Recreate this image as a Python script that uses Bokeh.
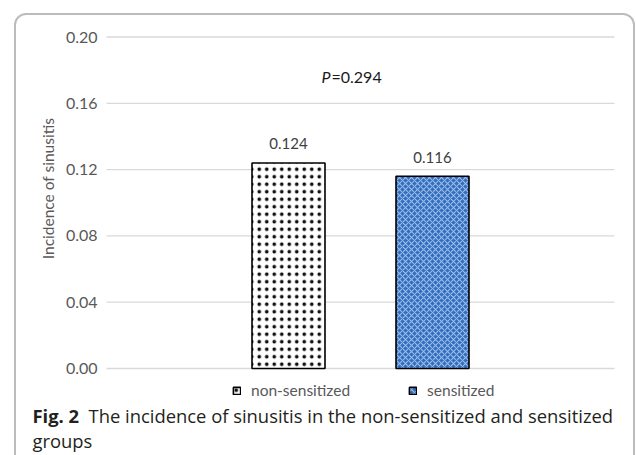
import math
from bokeh.plotting import figure
from bokeh.models import (ColumnDataSource, Range1d, Label, LabelSet, Legend,
                          LegendItem, BoxAnnotation)
from bokeh.embed import file_html
from bokeh.resources import INLINE
from bokeh.core.properties import value

# ---- data ----
groups = ["non-sensitized", "sensitized"]
incidence = [0.124, 0.116]
value_labels = ["0.124", "0.116"]
p_symbol = "P"
p_value_text = "=0.294"
y_ticks = [0.00, 0.04, 0.08, 0.12, 0.16, 0.20]
tick_labels = ["0.00", "0.04", "0.08", "0.12", "0.16", "0.20"]
y_axis_title = "Incidence of sinusitis"
caption_bold = "Fig. 2"
caption_line1 = "The incidence of sinusitis in the non-sensitized and sensitized"
caption_line2 = "groups"

CHART_FONT = "Lato"
CAP_FONT = "Open Sans"

# ---- layout geometry (pixels) ----
W, H = 636, 455
PX_X = 144.0                  # pixels per category step
X0_PX = 288.0                 # pixel of first category
PLOT_L, PLOT_R = 106.0, 614.0 # plot-area extent (px)
Y0_PX, Y20_PX = 368.0, 36.5   # pixel of y=0 and y=0.20
PX_Y = (Y0_PX - Y20_PX) / 0.20

x_pos = list(range(len(groups)))   # category index positions

p = figure(width=W, height=H,
           x_range=Range1d(-X0_PX / PX_X, (W - X0_PX) / PX_X),
           y_range=Range1d(-(H - Y0_PX) / PX_Y, Y0_PX / PX_Y),
           output_backend="svg", toolbar_location=None,
           min_border=0)
p.axis.visible = False
p.grid.visible = False
p.outline_line_color = None
p.background_fill_color = "white"
p.border_fill_color = "white"

def px_to_x(px):
    return (px - X0_PX) / PX_X

# rounded frame around the figure panel
p.add_layout(BoxAnnotation(left=14.5, right=633.5, top=13.5, bottom=H + 30,
                           left_units="canvas", right_units="canvas",
                           top_units="canvas", bottom_units="canvas",
                           fill_alpha=0, line_color="#222222", line_width=2,
                           border_radius=11, level="overlay"))

# horizontal gridlines at the tick values
p.segment(x0=px_to_x(PLOT_L), x1=px_to_x(PLOT_R), y0=y_ticks, y1=y_ticks,
          line_color="#d9d9d9", line_width=1.3)

# tick labels
for t, lab in zip(y_ticks, tick_labels):
    p.add_layout(Label(x=97, x_units="screen", y=t, text=lab,
                       text_font=CHART_FONT, text_font_size="16px",
                       text_color="#595959", text_align="right",
                       text_baseline="middle"))

# axis title
p.add_layout(Label(x=47, y=H - 188, x_units="screen", y_units="screen",
                   text=y_axis_title, angle=math.pi / 2,
                   text_font=CHART_FONT, text_font_size="15.5px",
                   text_color="#595959", text_align="center",
                   text_baseline="middle"))

src = ColumnDataSource(dict(x=x_pos, groups=groups, incidence=incidence,
                            labels=value_labels))

BAR_W = 73 / PX_X
r1 = p.vbar(x=[x_pos[0]], top=[incidence[0]], width=BAR_W,
            fill_color="white", line_color="black", line_width=1.6,
            hatch_pattern="dot", hatch_color="#111111", hatch_scale=7.5, hatch_weight=1.0)
r2 = p.vbar(x=[x_pos[1]], top=[incidence[1]], width=BAR_W,
            fill_color="#326cbd", line_color="black", line_width=1.6,
            hatch_pattern="diagonal_cross", hatch_color="#98bbe9", hatch_scale=6, hatch_weight=1.1)

p.add_layout(LabelSet(x="x", y="incidence", text="labels", source=src,
                      y_offset=19, text_align="center", text_baseline="middle",
                      text_font=value(CHART_FONT), text_font_size="15px",
                      text_color="#404040"))

# P value annotation
p.add_layout(Label(x=321, x_units="screen", y=(Y0_PX - 76) / PX_Y, text=p_symbol,
                   text_font=CHART_FONT, text_font_style="italic",
                   text_font_size="16px", text_color="#1a1a1a",
                   text_baseline="middle", text_align="left"))
p.add_layout(Label(x=331, x_units="screen", y=(Y0_PX - 76) / PX_Y, text=p_value_text,
                   text_font=CHART_FONT, text_font_size="16px",
                   text_color="#1a1a1a", text_baseline="middle", text_align="left"))

legend = Legend(items=[LegendItem(label=groups[0], renderers=[r1]),
                       LegendItem(label=groups[1], renderers=[r2])],
                orientation="horizontal", location=(232, H - 387 - 12),
                glyph_width=9, glyph_height=9, label_standoff=10, spacing=58,
                label_text_font=CHART_FONT, label_text_font_size="15.5px",
                label_text_color="#595959", border_line_color=None,
                background_fill_alpha=0, padding=2, margin=0)
p.add_layout(legend)

# caption
p.add_layout(Label(x=32, y=H - 415, x_units="screen", y_units="screen", text=caption_bold,
                   text_font=CAP_FONT, text_font_style="bold", text_font_size="18.4px",
                   text_color="#231f20", text_baseline="middle"))
p.add_layout(Label(x=88, y=H - 415, x_units="screen", y_units="screen", text=caption_line1,
                   text_font=CAP_FONT, text_font_size="18.4px",
                   text_color="#231f20", text_baseline="middle"))
p.add_layout(Label(x=32, y=H - 440, x_units="screen", y_units="screen", text=caption_line2,
                   text_font=CAP_FONT, text_font_size="18.4px",
                   text_color="#231f20", text_baseline="middle"))

open("out.html", "w").write(file_html(p, INLINE))
